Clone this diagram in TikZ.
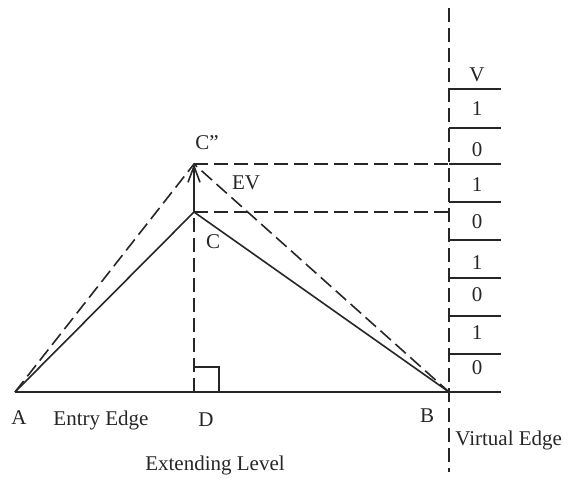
\documentclass[tikz,border=0pt]{standalone}
\usepackage{fontspec}
\setmainfont{Liberation Serif}
\usetikzlibrary{arrows.meta}
\begin{document}
\begin{tikzpicture}[x=0.5pt,y=-0.5pt,
  ln/.style={line width=0.8pt,black!85},
  dsh/.style={ln,dash pattern=on 7pt off 3pt},
  lbl/.style={font=\fontsize{10.5}{12}\selectfont,inner sep=0pt,text=black!85},
]
\useasboundingbox (0,0) rectangle (582,482);
% main points
\coordinate (A) at (15,392);
\coordinate (D) at (194,392);
\coordinate (B) at (449,392);
\coordinate (C) at (194,212);
\coordinate (Cpp) at (194,164);
\coordinate (E) at (501,392);
\coordinate (VT) at (449,8);
\coordinate (VB) at (449,472);
\coordinate (Cppr) at (449,164);
\coordinate (Cr) at (449,212);
% solid triangle and base
\draw[ln] (A) -- (E);
\draw[ln] (A) -- (C) -- (B);
\draw[ln,-{Straight Barb[length=8pt,width=6pt]}] (C) -- (Cpp);
% dashed lines
\draw[dsh] (A) -- (Cpp) -- (B);
\draw[dsh] (D) -- (C);
\draw[dsh] (Cpp) -- (Cppr);
\draw[dsh] (C) -- (Cr);
\draw[dsh] (VT) -- (VB);
% right angle
\draw[ln] (194,367) -- (219,367) -- (219,392);
% virtual edge cells
\foreach \yy in {89,128,164,202,240,278,316,354}
  \draw[ln] (449,\yy) -- (501,\yy);
\foreach \yy/\t [count=\i] in {75/V,109/1,150/0,185/1,222/0,263/1,295/0,333/1,368/0}
  \node[lbl] (v\i) at (477,\yy) {\t};
% labels
\node[lbl] (lA) at (19,418) {A};
\node[lbl] (lEntry) at (101,420) {Entry Edge};
\node[lbl] (lD) at (206,420) {D};
\node[lbl] (lB) at (427,416) {B};
\node[lbl,anchor=west] (lVirt) at (455,440) {Virtual Edge};
\node[lbl] (lExt) at (215,465) {Extending Level};
\node[lbl] (lCpp) at (207,143) {C”};
\node[lbl] (lEV) at (246,183) {EV};
\node[lbl] (lC) at (213,242) {C};
\end{tikzpicture}
\end{document}
